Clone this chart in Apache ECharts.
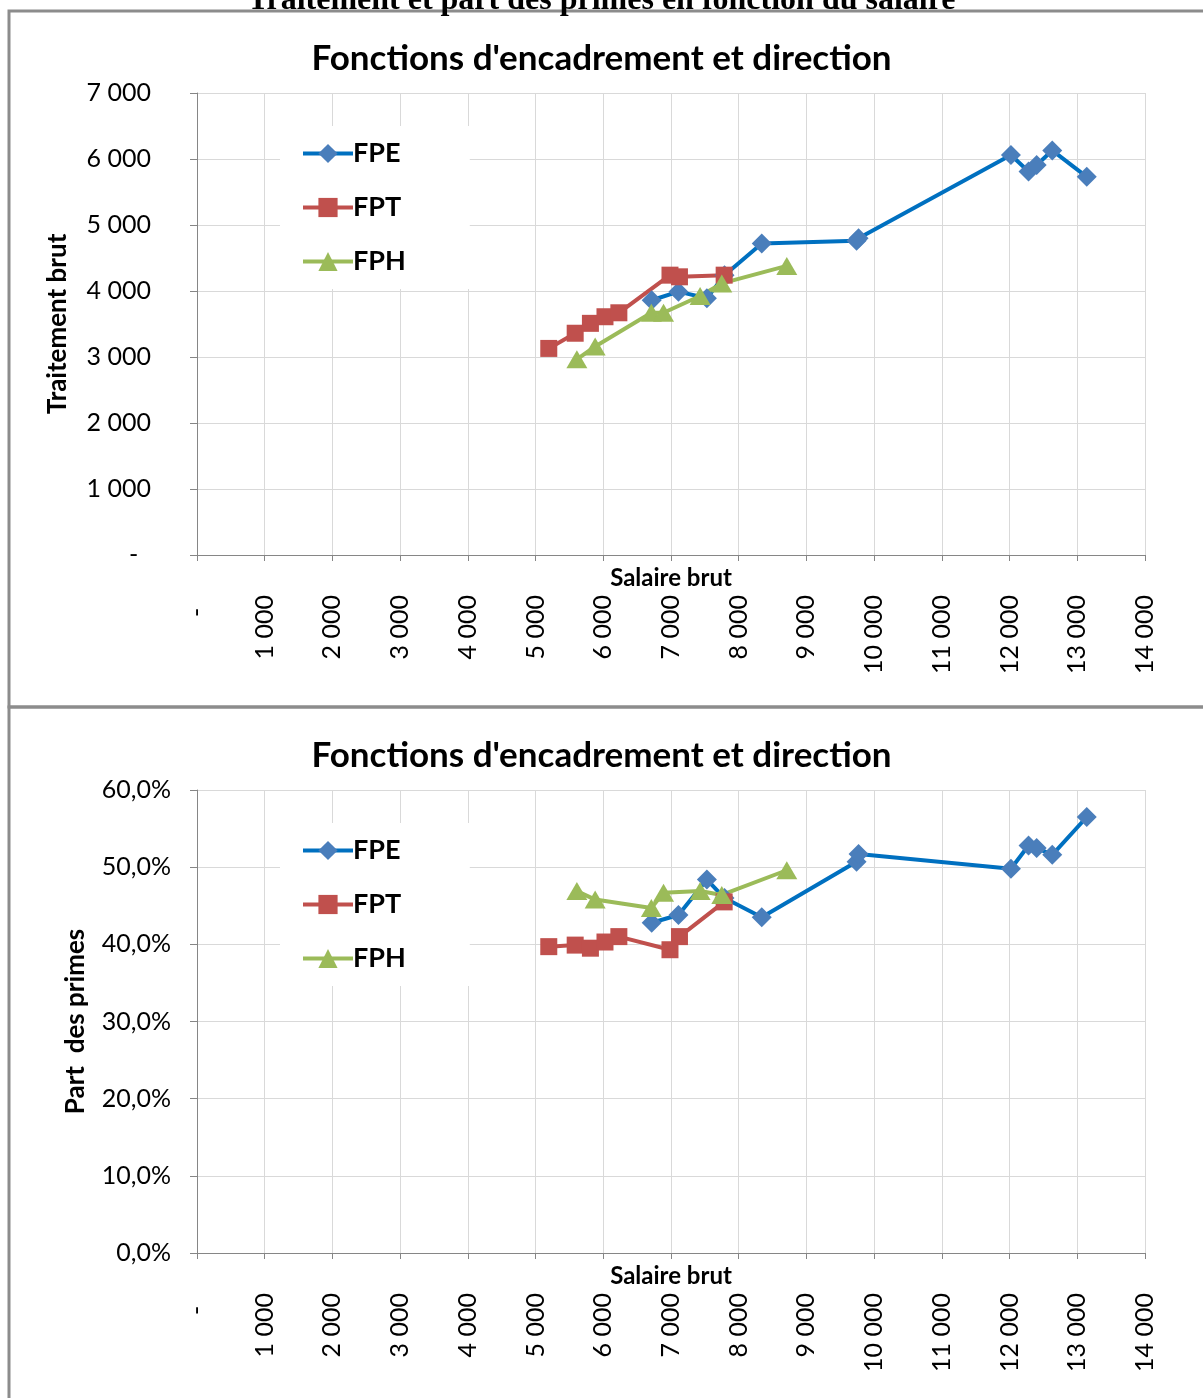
<!DOCTYPE html>
<html>
<head>
<meta charset="utf-8">
<script src="https://cdn.jsdelivr.net/npm/echarts@6/dist/echarts.min.js"></script>
<style>
  html, body { margin: 0; padding: 0; background: #fff; }
  #chart { width: 1203px; height: 1398px; }
</style>
</head>
<body>
<div id="chart"></div>
<script>
// salaire brut (x) and values per series
const fpeSalaire    = [6715, 7110, 7530, 7790, 8340, 9740, 9770, 12020, 12280, 12400, 12630, 13140];
const fpeTraitement = [3860, 3990, 3890, 4240, 4720, 4760, 4800, 6060, 5810, 5910, 6130, 5730];
const fpePrimes     = [42.8, 43.8, 48.4, 46.0, 43.5, 50.7, 51.7, 49.8, 52.8, 52.5, 51.6, 56.5];

const fptSalaire    = [5195, 5585, 5810, 6025, 6230, 6985, 7125, 7785];
const fptTraitement = [3130, 3360, 3510, 3610, 3670, 4240, 4215, 4240];
const fptPrimes     = [39.7, 39.9, 39.5, 40.3, 41.0, 39.3, 41.0, 45.5];

const fphSalaire    = [5610, 5880, 6710, 6890, 7430, 7750, 8710];
const fphTraitement = [2965, 3160, 3670, 3670, 3925, 4115, 4380];
const fphPrimes     = [46.9, 45.8, 44.7, 46.7, 46.9, 46.4, 49.6];

const seriesNames = ['FPE', 'FPT', 'FPH'];
const pageTitle = 'Traitement et part des primes en fonction du salaire';
const chartTitle = "Fonctions d'encadrement et direction";

const FONT = 'Lato';
const axisGrey = '#868686';
const gridGrey = '#d9d9d9';

function pairs(xs, ys) { return xs.map((x, i) => [x, ys[i]]); }
// excel style: zero shown as a dash, thousands split by a space
function milliers(v) {
  if (v === 0) return '-  ';
  return String(v).replace(/\B(?=(\d{3})+(?!\d))/g, ' ');
}

const styles = {
  FPE: { line: '#0070c0', item: '#4a7ebb', symbol: 'diamond', size: 20 },
  FPT: { line: '#c0504d', item: '#c0504d', symbol: 'rect', size: 17 },
  FPH: { line: '#9bbb59', item: '#9bbb59', symbol: 'triangle', size: [21, 18] }
};

const chart = echarts.init(document.getElementById('chart'));

function xAxisFor(gridIndex) {
  return {
    type: 'value', gridIndex: gridIndex, min: 0, max: 14000, interval: 1000,
    name: 'Salaire brut', nameLocation: 'middle', nameGap: 11, nameMoveOverlap: false,
    nameTextStyle: { fontFamily: FONT, fontWeight: 'bold', fontSize: 24, color: '#000', verticalAlign: 'top' },
    axisLine: { onZero: false, lineStyle: { color: axisGrey, width: 1 } },
    axisTick: { show: true, length: 6, lineStyle: { color: axisGrey } },
    axisLabel: { rotate: 90, margin: 40, fontFamily: FONT, fontSize: 25, color: '#000', formatter: milliers },
    splitLine: { show: true, lineStyle: { color: gridGrey, width: 1 } }
  };
}

function seriesFor(name, xs, ys, idx) {
  const s = styles[name];
  return {
    name: name, type: 'line', xAxisIndex: idx, yAxisIndex: idx,
    data: pairs(xs, ys),
    symbol: s.symbol, symbolSize: s.size,
    lineStyle: { color: s.line, width: 4 },
    itemStyle: { color: s.item },
    animation: false
  };
}

function legendFor(top) {
  return {
    data: seriesNames, orient: 'vertical', left: 280, top: top,
    itemWidth: 50, itemHeight: 24, itemGap: 27,
    backgroundColor: '#fff', padding: [14, 64, 14, 21],
    lineStyle: { width: 4 },
    textStyle: { fontFamily: FONT, fontWeight: 'bold', fontSize: 27, color: '#000', padding: [0, 0, 0, -5] }
  };
}

chart.setOption({
  backgroundColor: '#fff',
  animation: false,
  title: [
    { text: pageTitle, left: 'center', top: -20,
      textStyle: { fontFamily: 'Liberation Serif', fontWeight: 'bold', fontSize: 32, color: '#000' } },
    { text: chartTitle, left: 'center', top: 36,
      textStyle: { fontFamily: FONT, fontWeight: 'bold', fontSize: 35, color: '#000' } },
    { text: chartTitle, left: 'center', top: 733,
      textStyle: { fontFamily: FONT, fontWeight: 'bold', fontSize: 35, color: '#000' } }
  ],
  graphic: [
    { type: 'rect', shape: { x: 9, y: 11, width: 1210, height: 696 },
      style: { fill: null, stroke: '#8c8c8c', lineWidth: 3 }, z: -10 },
    { type: 'rect', shape: { x: 9, y: 707, width: 1210, height: 710 },
      style: { fill: null, stroke: '#8c8c8c', lineWidth: 3 }, z: -10 }
  ],
  legend: [legendFor(126), legendFor(823)],
  grid: [
    { left: 197, right: 58, top: 93, height: 462 },
    { left: 197, right: 58, top: 790, height: 463 }
  ],
  xAxis: [xAxisFor(0), xAxisFor(1)],
  yAxis: [
    {
      type: 'value', gridIndex: 0, min: 0, max: 7000, interval: 1000,
      name: 'Traitement brut', nameLocation: 'middle', nameGap: 126, nameMoveOverlap: false,
      nameTextStyle: { fontFamily: FONT, fontWeight: 'bold', fontSize: 26, color: '#000' },
      axisLine: { show: true, lineStyle: { color: axisGrey } },
      axisTick: { show: true, length: 7, lineStyle: { color: axisGrey } },
      axisLabel: { margin: 46, fontFamily: FONT, fontSize: 25, color: '#000', formatter: milliers },
      splitLine: { show: true, lineStyle: { color: gridGrey } }
    },
    {
      type: 'value', gridIndex: 1, min: 0, max: 60, interval: 10,
      name: 'Part  des primes', nameLocation: 'middle', nameGap: 108, nameMoveOverlap: false,
      nameTextStyle: { fontFamily: FONT, fontWeight: 'bold', fontSize: 26, color: '#000' },
      axisLine: { show: true, lineStyle: { color: axisGrey } },
      axisTick: { show: true, length: 7, lineStyle: { color: axisGrey } },
      axisLabel: { margin: 26, fontFamily: FONT, fontSize: 25, color: '#000',
        formatter: v => v.toFixed(1).replace('.', ',') + '%' },
      splitLine: { show: true, lineStyle: { color: gridGrey } }
    }
  ],
  series: [
    seriesFor('FPE', fpeSalaire, fpeTraitement, 0),
    seriesFor('FPT', fptSalaire, fptTraitement, 0),
    seriesFor('FPH', fphSalaire, fphTraitement, 0),
    seriesFor('FPE', fpeSalaire, fpePrimes, 1),
    seriesFor('FPT', fptSalaire, fptPrimes, 1),
    seriesFor('FPH', fphSalaire, fphPrimes, 1)
  ]
});
</script>
</body>
</html>
